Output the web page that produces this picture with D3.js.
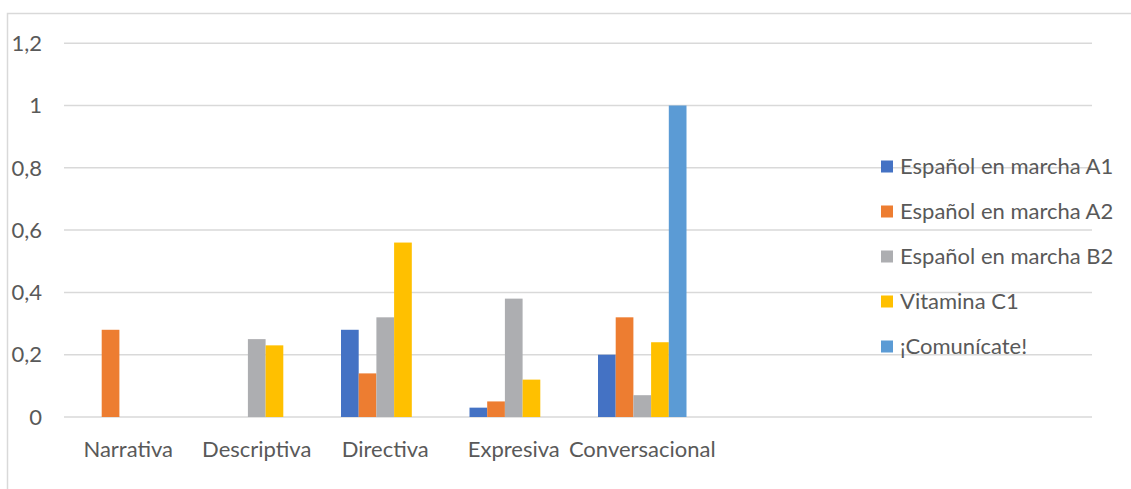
<!DOCTYPE html>
<html>
<head>
<meta charset="utf-8">
<script src="https://cdn.jsdelivr.net/npm/d3@7"></script>
<style>
  body { margin: 0; background: #fff; }
  text { font-family: Lato, "Open Sans", sans-serif; fill: #595959; }
</style>
</head>
<body>
<div id="chart"></div>
<script>
// categories (last three are empty slots in the original sheet)
const categories = ["Narrativa", "Descriptiva", "Directiva", "Expresiva", "Conversacional", "", "", ""];
const seriesNames = ["Español en marcha A1", "Español en marcha A2", "Español en marcha B2", "Vitamina C1", "¡Comunícate!"];
const seriesColors = ["#4472C4", "#ED7D31", "#ADAEB1", "#FFC000", "#5B9BD5"];

const valuesA1 = [0, 0, 0.28, 0.03, 0.2, 0, 0, 0];
const valuesA2 = [0.28, 0, 0.14, 0.05, 0.32, 0, 0, 0];
const valuesB2 = [0, 0.25, 0.32, 0.38, 0.07, 0, 0, 0];
const valuesC1 = [0, 0.23, 0.56, 0.12, 0.24, 0, 0, 0];
const valuesCom = [0, 0, 0, 0, 1, 0, 0, 0];
const allSeries = [valuesA1, valuesA2, valuesB2, valuesC1, valuesCom];

const yTicks = [0, 0.2, 0.4, 0.6, 0.8, 1, 1.2];

const width = 1131, height = 489;
const fontSize = 22;

const svg = d3.select("#chart")
  .append("svg")
  .attr("width", width)
  .attr("height", height);

// outer chart frame
svg.append("rect")
  .attr("x", 7.5).attr("y", 13.5)
  .attr("width", 1140).attr("height", 500)
  .attr("fill", "none")
  .attr("stroke", "#D9D9D9")
  .attr("stroke-width", 1.5);

const x0 = d3.scaleBand()
  .domain(d3.range(categories.length))
  .range([64, 1092])
  .padding(0);

const x1 = d3.scaleBand()
  .domain(d3.range(seriesNames.length))
  .range([0, x0.bandwidth()])
  .paddingInner(0)
  .paddingOuter(1.13);

const y = d3.scaleLinear()
  .domain([0, 1.2])
  .range([417, 43.2]);

// gridlines
svg.append("g")
  .selectAll("line")
  .data(yTicks)
  .join("line")
  .attr("x1", 64)
  .attr("x2", 1092)
  .attr("y1", d => y(d))
  .attr("y2", d => y(d))
  .attr("stroke", "#D9D9D9")
  .attr("stroke-width", 1.5);

// y labels
svg.append("g")
  .selectAll("text")
  .data(yTicks)
  .join("text")
  .attr("x", 42)
  .attr("y", d => y(d))
  .attr("dy", "0.35em")
  .attr("text-anchor", "end")
  .attr("font-size", fontSize)
  .text(d => String(d).replace(".", ","));

// bars
const groups = svg.append("g")
  .selectAll("g")
  .data(allSeries)
  .join("g")
  .attr("fill", (d, i) => seriesColors[i]);

groups.each(function(vals, si) {
  d3.select(this).selectAll("rect")
    .data(vals.map((v, ci) => ({ v, ci })).filter(d => d.v > 0))
    .join("rect")
    .attr("x", d => x0(d.ci) + x1(si))
    .attr("width", x1.bandwidth())
    .attr("y", d => y(d.v))
    .attr("height", d => y(0) - y(d.v));
});

// x labels
svg.append("g")
  .selectAll("text")
  .data(categories)
  .join("text")
  .attr("x", (d, i) => x0(i) + x0.bandwidth() / 2)
  .attr("y", 449)
  .attr("dy", "0.35em")
  .attr("text-anchor", "middle")
  .attr("font-size", fontSize)
  .text(d => d);

// legend
const legend = svg.append("g")
  .selectAll("g")
  .data(seriesNames)
  .join("g")
  .attr("transform", (d, i) => `translate(881, ${166.5 + i * 45})`);

legend.append("rect")
  .attr("x", 0).attr("y", -6)
  .attr("width", 12).attr("height", 12)
  .attr("fill", (d, i) => seriesColors[i]);

legend.append("text")
  .attr("x", 19)
  .attr("dy", "0.35em")
  .attr("font-size", fontSize)
  .text(d => d);
</script>
</body>
</html>
